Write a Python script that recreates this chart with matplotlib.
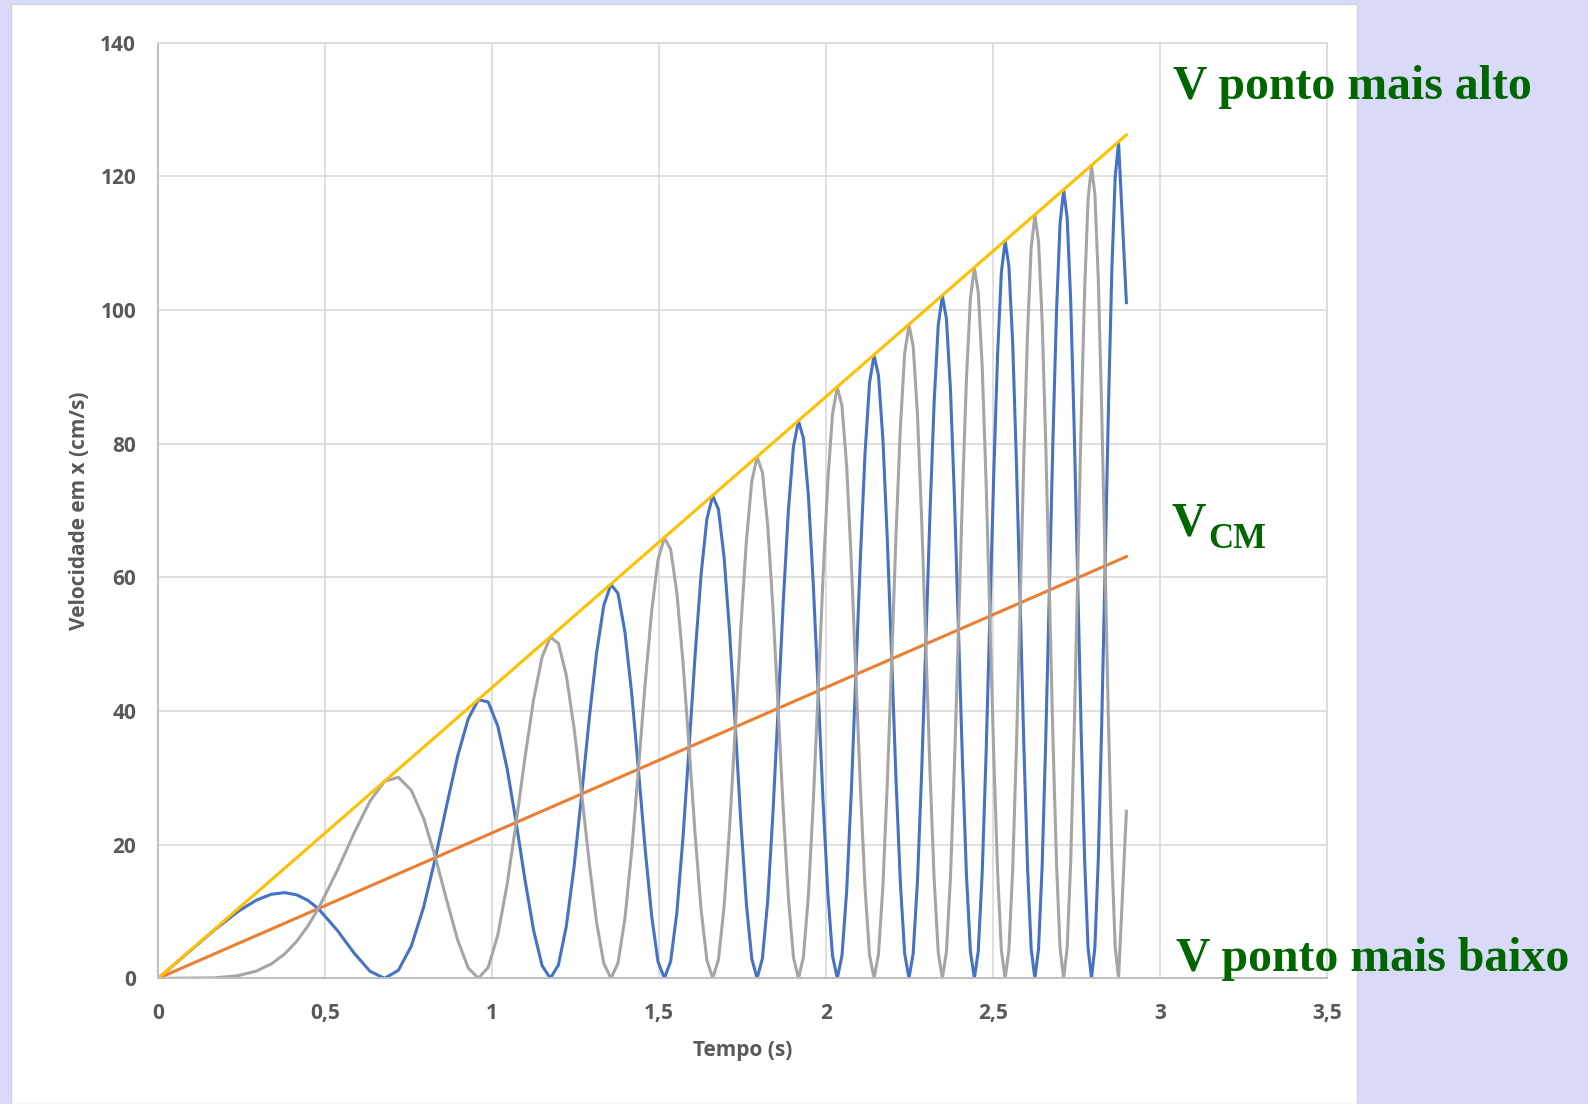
import matplotlib.pyplot as plt
from matplotlib.patches import Rectangle

# ---- dados (tempo em s, velocidade em cm/s) ----
tempo = [0, 0.1695, 0.2397, 0.2936, 0.3390, 0.3790, 0.4152, 0.4484, 0.4794,
         0.5360, 0.5871, 0.6342, 0.6780, 0.7191, 0.7580, 0.7950, 0.8303, 0.8643, 0.8969,
         0.9284, 0.9588, 0.9883, 1.0170, 1.0448, 1.0720, 1.0984, 1.1243, 1.1496, 1.1743,
         1.1985, 1.2222, 1.2455, 1.2684, 1.2908, 1.3129, 1.3346, 1.3560,
         1.3770, 1.3977, 1.4181, 1.4382, 1.4580, 1.4777, 1.4969, 1.5160, 1.5348, 1.5535,
         1.5718, 1.5900, 1.6080, 1.6258, 1.6433, 1.6608, 1.6779, 1.6950, 1.7118, 1.7286,
         1.7450, 1.7615, 1.7777, 1.7938, 1.8097, 1.8256, 1.8412, 1.8568, 1.8721, 1.8875,
         1.9026, 1.9177, 1.9325, 1.9474, 1.9620, 1.9767, 1.9911, 2.0056, 2.0197, 2.0340,
         2.0480, 2.0621, 2.0759, 2.0897, 2.1034, 2.1171, 2.1305, 2.1440, 2.1573, 2.1707,
         2.1838, 2.1970, 2.2099, 2.2230, 2.2358, 2.2487, 2.2613, 2.2741, 2.2866, 2.2992,
         2.3116, 2.3241, 2.3363, 2.3487, 2.3608, 2.3730, 2.3850, 2.3971, 2.4090, 2.4209,
         2.4327, 2.4446, 2.4562, 2.4680, 2.4795, 2.4911, 2.5025, 2.5141, 2.5254, 2.5368,
         2.5480, 2.5594, 2.5705, 2.5818, 2.5928, 2.6039, 2.6148, 2.6259, 2.6367, 2.6477,
         2.6584, 2.6693, 2.6799, 2.6907, 2.7013, 2.7120, 2.7225, 2.7331, 2.7435, 2.7540,
         2.7644, 2.7749, 2.7851, 2.7955, 2.8056, 2.8159, 2.8260, 2.8363, 2.8463, 2.8564,
         2.8664, 2.8765, 2.9]

# ponto azul (começa no ponto mais alto)
v_azul = [0, 7.30, 10.03, 11.69, 12.58, 12.82, 12.48, 11.65, 10.42,
          7.19, 3.74, 1.05, 0, 1.19, 4.83, 10.67, 18.05, 25.98, 33.29,
          38.83, 41.69, 41.34, 37.74, 31.41, 23.31, 14.74, 7.16, 1.90, 0,
          1.98, 7.78, 16.71, 27.58, 38.80, 48.72, 55.82, 58.96,
          57.59, 51.87, 42.63, 31.27, 19.57, 9.41, 2.48, 0, 2.54, 9.89,
          21.09, 34.57, 48.34, 60.34, 68.73, 72.21, 70.18, 62.91, 51.46, 37.58,
          23.42, 11.22, 2.94, 0, 2.99, 11.62, 24.71, 40.37, 56.28, 70.05,
          79.58, 83.38, 80.83, 72.27, 58.98, 42.97, 26.72, 12.77, 3.34, 0,
          3.39, 13.13, 27.86, 45.43, 63.23, 78.57, 89.11, 93.22, 90.23, 80.56,
          65.64, 47.76, 29.66, 14.16, 3.70, 0, 3.74, 14.48, 30.69, 49.99,
          69.49, 86.25, 97.72, 102.12, 98.74, 88.07, 71.69, 52.11, 32.33, 15.42,
          4.02, 0, 4.06, 15.72, 33.27, 54.16, 75.22, 93.31, 105.63, 110.30,
          106.57, 94.99, 77.27, 56.13, 34.79, 16.58, 4.33, 0, 4.36, 16.86,
          35.68, 58.03, 80.56, 99.86, 112.98, 117.92, 113.87, 101.43, 82.47, 59.87,
          37.10, 17.67, 4.61, 0, 4.64, 17.93, 37.93, 61.66, 85.56, 106.01,
          119.89, 125.07, 101.1]

# ponto cinza (começa no ponto mais baixo)
v_cinza = [0, 0.07, 0.40, 1.08, 2.16, 3.66, 5.57, 7.85, 10.42,
           16.11, 21.79, 26.52, 29.48, 30.08, 28.13, 23.90, 18.05, 11.60, 5.71,
           1.54, 0, 1.64, 6.48, 14.02, 23.31, 33.02, 41.73, 48.08, 51.06,
           50.13, 45.36, 37.44, 27.58, 17.32, 8.36, 2.21, 0,
           2.28, 8.90, 19.03, 31.27, 43.83, 54.84, 62.61, 65.92, 64.19, 57.65,
           47.25, 34.57, 21.58, 10.35, 2.72, 0, 2.78, 10.79, 22.97, 37.58,
           52.46, 65.37, 74.35, 78.00, 75.69, 67.75, 55.34, 40.37, 25.12, 12.02,
           3.15, 0, 3.20, 12.40, 26.33, 42.97, 59.85, 74.43, 84.48, 88.44,
           85.66, 76.53, 62.40, 45.43, 28.23, 13.48, 3.52, 0, 3.57, 13.82,
           29.31, 47.76, 66.43, 82.50, 93.51, 97.77, 94.58, 84.40, 68.74, 49.99,
           31.02, 14.80, 3.87, 0, 3.91, 15.11, 32.01, 52.11, 72.41, 89.85,
           101.75, 106.29, 102.73, 91.59, 74.53, 54.16, 33.58, 16.01, 4.18, 0,
           4.22, 16.30, 34.50, 56.13, 77.94, 96.64, 109.36, 114.17, 110.28, 98.26,
           79.91, 58.03, 35.97, 17.13, 4.47, 0, 4.50, 17.40, 36.82, 59.87,
           83.10, 102.98, 116.49, 121.55, 117.35, 104.51, 84.95, 61.66, 38.20, 18.19,
           4.74, 0, 25.0]

t_reta = [0, 2.9]
v_cm = [0, 63.1]
v_alto = [0, 126.2]

xticks = [0, 0.5, 1, 1.5, 2, 2.5, 3, 3.5]
xlabels = ["0", "0,5", "1", "1,5", "2", "2,5", "3", "3,5"]
yticks = [0, 20, 40, 60, 80, 100, 120, 140]

#---figura------
W, H = 1588, 1104
fig = plt.figure(figsize=(W / 100, H / 100), dpi=100, facecolor="#d9d9f9")
fig.add_artist(Rectangle((11 / W, 0), (1357 - 11) / W, 1 - 4 / H, transform=fig.transFigure,
                         facecolor="white", edgecolor="#d4d4d4", lw=1, zorder=0))

ax = fig.add_axes([158.3 / W, 1 - 978.3 / H, (1326.7 - 158.3) / W, (978.3 - 42.7) / H])
ax.set_facecolor("white")

ax.plot(tempo, v_azul, color="#4472c4", lw=2.2)
ax.plot(t_reta, v_cm, color="#ed7d31", lw=2.2)
ax.plot(tempo, v_cinza, color="#a5a5a5", lw=2.2)
ax.plot(t_reta, v_alto, color="#ffc000", lw=2.2)

ax.set_xlim(0, 3.5)
ax.set_ylim(0, 140)
ax.set_xticks(xticks)
ax.set_xticklabels(xlabels)
ax.set_yticks(yticks)
ax.grid(color="#d9d9d9", lw=1.2)
ax.set_axisbelow(True)
for s in ["top", "right"]:
    ax.spines[s].set_color("#d9d9d9")
    ax.spines[s].set_linewidth(1.2)
for s in ["bottom", "left"]:
    ax.spines[s].set_color("#bfbfbf")
    ax.spines[s].set_linewidth(1.4)
ax.tick_params(length=0, labelcolor="#595959", labelsize=15)
ax.tick_params(axis="y", pad=16)
ax.tick_params(axis="x", pad=17.5)
for lab in ax.get_xticklabels() + ax.get_yticklabels():
    lab.set_fontfamily("Open Sans")
    lab.set_fontweight("bold")

ax.set_xlabel("Tempo (s)", fontsize=15, fontweight="bold", color="#595959",
              family="Open Sans", labelpad=12)
ax.set_ylabel("Velocidade em x (cm/s)", fontsize=15, fontweight="bold", color="#595959",
              family="Open Sans", labelpad=7)

#---anotações-----
verde = "#006600"
fonte = dict(family="Liberation Serif", fontweight="bold", color=verde, va="baseline", ha="left")
fig.text(1173 / W, 1 - 99 / H, "V ponto mais alto", fontsize=34.4, **fonte)
fig.text(1176 / W, 1 - 971 / H, "V ponto mais baixo", fontsize=34.4, **fonte)
fig.text(1172 / W, 1 - 535 / H, "V", fontsize=34.4, **fonte)
fig.text(1208 / W, 1 - 548 / H, "CM", fontsize=25, **fonte)

fig.savefig("out.png", dpi=100, facecolor=fig.get_facecolor())
